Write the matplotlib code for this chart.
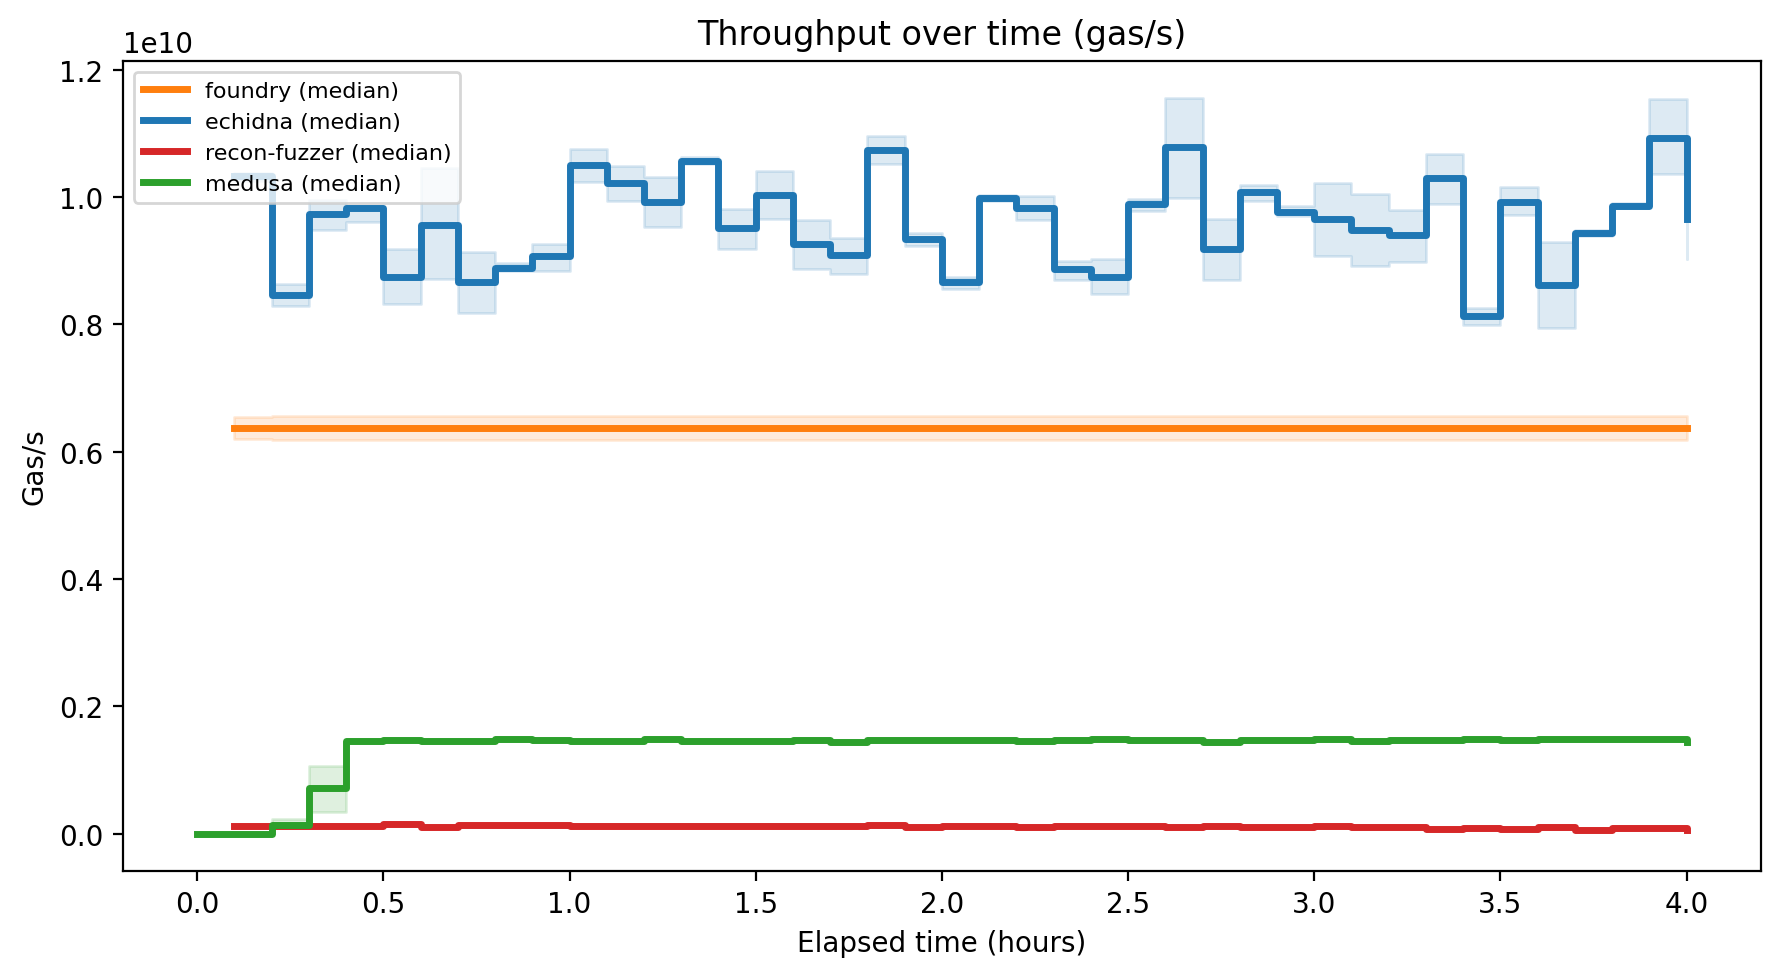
import matplotlib
matplotlib.use('Agg')
import matplotlib.pyplot as plt
import numpy as np

# time buckets (hours)
hours = [0.0, 0.1, 0.2, 0.3, 0.4, 0.5, 0.6, 0.7, 0.8, 0.9,
         1.0, 1.1, 1.2, 1.3, 1.4, 1.5, 1.6, 1.7, 1.8, 1.9,
         2.0, 2.1, 2.2, 2.3, 2.4, 2.5, 2.6, 2.7, 2.8, 2.9,
         3.0, 3.1, 3.2, 3.3, 3.4, 3.5, 3.6, 3.7, 3.8, 3.9, 4.0]

# values in units of 1e10 gas/s
# foundry / echidna / recon start at 0.1h, medusa at 0.0h
foundry_med = [0.6366] * 40
foundry_lo = [0.620] + [0.619] * 39
foundry_hi = [0.654] + [0.656] * 39

echidna_med = [1.033, 0.846, 0.973, 0.982, 0.874, 0.956, 0.867, 0.889, 0.907, 1.050,
               1.022, 0.992, 1.057, 0.951, 1.003, 0.926, 0.909, 1.074, 0.934, 0.866,
               0.998, 0.982, 0.887, 0.875, 0.989, 1.078, 0.918, 1.007, 0.977, 0.965,
               0.948, 0.940, 1.029, 0.813, 0.992, 0.862, 0.943, 0.986, 1.093, 0.965]
echidna_lo = [1.025, 0.829, 0.948, 0.960, 0.832, 0.871, 0.818, 0.884, 0.884, 1.023,
              0.994, 0.952, 1.052, 0.918, 0.965, 0.887, 0.879, 1.052, 0.923, 0.856,
              0.993, 0.964, 0.870, 0.847, 0.978, 0.999, 0.870, 0.994, 0.970, 0.907,
              0.892, 0.898, 0.989, 0.799, 0.971, 0.794, 0.938, 0.983, 1.036, 0.902]
echidna_hi = [1.038, 0.863, 0.995, 0.986, 0.918, 1.046, 0.914, 0.897, 0.926, 1.075,
              1.049, 1.032, 1.062, 0.981, 1.041, 0.964, 0.935, 1.096, 0.944, 0.874,
              1.003, 1.002, 0.900, 0.902, 0.997, 1.156, 0.966, 1.019, 0.985, 1.022,
              1.005, 0.980, 1.067, 0.825, 1.015, 0.929, 0.948, 0.990, 1.154, 0.990]

recon_med = [0.0130, 0.0130, 0.0130, 0.0130, 0.0157, 0.0112, 0.0140, 0.0140, 0.0140, 0.0128,
             0.0118, 0.0125, 0.0125, 0.0125, 0.0125, 0.0125, 0.0125, 0.0143, 0.0102, 0.0125,
             0.0125, 0.0102, 0.0125, 0.0125, 0.0125, 0.0105, 0.0125, 0.0112, 0.0112, 0.0125,
             0.0112, 0.0112, 0.0075, 0.0086, 0.0078, 0.0104, 0.0068, 0.0094, 0.0094, 0.0062]
recon_lo = [0.0126, 0.0126, 0.0126, 0.0126, 0.0152, 0.0108, 0.0136, 0.0136, 0.0136, 0.0124,
            0.0114, 0.0121, 0.0121, 0.0121, 0.0121, 0.0121, 0.0121, 0.0139, 0.0098, 0.0121,
            0.0121, 0.0098, 0.0121, 0.0121, 0.0121, 0.0101, 0.0121, 0.0108, 0.0108, 0.0121,
            0.0108, 0.0108, 0.0071, 0.0082, 0.0074, 0.0100, 0.0064, 0.0090, 0.0090, 0.0058]
recon_hi = [0.0134, 0.0134, 0.0134, 0.0134, 0.0161, 0.0116, 0.0144, 0.0144, 0.0144, 0.0132,
            0.0122, 0.0129, 0.0129, 0.0129, 0.0129, 0.0129, 0.0129, 0.0147, 0.0106, 0.0129,
            0.0129, 0.0106, 0.0129, 0.0129, 0.0129, 0.0109, 0.0129, 0.0116, 0.0116, 0.0129,
            0.0116, 0.0116, 0.0079, 0.0090, 0.0082, 0.0108, 0.0072, 0.0098, 0.0098, 0.0066]

medusa_med = [0.0, 0.0, 0.0140, 0.0720, 0.1452, 0.1478, 0.1457, 0.1457, 0.1488, 0.1478,
              0.1457, 0.1462, 0.1488, 0.1462, 0.1462, 0.1452, 0.1467, 0.1436, 0.1467, 0.1467,
              0.1467, 0.1467, 0.1452, 0.1472, 0.1488, 0.1467, 0.1467, 0.1436, 0.1467, 0.1467,
              0.1488, 0.1451, 0.1467, 0.1467, 0.1488, 0.1467, 0.1483, 0.1483, 0.1483, 0.1483, 0.1446]
medusa_lo = [0.0, 0.0, 0.0094, 0.0340, 0.1445, 0.1470, 0.1450, 0.1450, 0.1480, 0.1470,
             0.1450, 0.1455, 0.1480, 0.1455, 0.1455, 0.1445, 0.1460, 0.1430, 0.1460, 0.1460,
             0.1460, 0.1460, 0.1445, 0.1465, 0.1480, 0.1460, 0.1460, 0.1430, 0.1460, 0.1460,
             0.1480, 0.1445, 0.1460, 0.1460, 0.1480, 0.1460, 0.1476, 0.1476, 0.1476, 0.1476, 0.1440]
medusa_hi = [0.0, 0.0, 0.0235, 0.1060, 0.1459, 0.1485, 0.1464, 0.1464, 0.1495, 0.1485,
             0.1464, 0.1469, 0.1495, 0.1469, 0.1469, 0.1459, 0.1474, 0.1443, 0.1474, 0.1474,
             0.1474, 0.1474, 0.1459, 0.1479, 0.1495, 0.1474, 0.1474, 0.1443, 0.1474, 0.1474,
             0.1495, 0.1458, 0.1474, 0.1474, 0.1495, 0.1474, 0.1490, 0.1490, 0.1490, 0.1490, 0.1452]

SCALE = 1e10

series = [
    ("foundry", "tab:orange", hours[1:], foundry_med, foundry_lo, foundry_hi),
    ("echidna", "tab:blue", hours[1:], echidna_med, echidna_lo, echidna_hi),
    ("recon-fuzzer", "tab:red", hours[1:], recon_med, recon_lo, recon_hi),
    ("medusa", "tab:green", hours, medusa_med, medusa_lo, medusa_hi),
]

fig, ax = plt.subplots(figsize=(8.905, 4.89), dpi=200)
fig.subplots_adjust(left=0.0689, right=0.9888, top=0.9369, bottom=0.1087)

for name, color, x, med, lo, hi in series:
    ax.fill_between(x, np.array(lo) * SCALE, np.array(hi) * SCALE,
                    step="post", color=color, alpha=0.15)
    ax.step(x, np.array(med) * SCALE, where="post", color=color,
            linewidth=2.5, label=f"{name} (median)")

ax.set_title("Throughput over time (gas/s)")
ax.set_xlabel("Elapsed time (hours)")
ax.set_ylabel("Gas/s")
ax.legend(loc="upper left", fontsize=8)

fig.savefig("out.png", dpi=200)
